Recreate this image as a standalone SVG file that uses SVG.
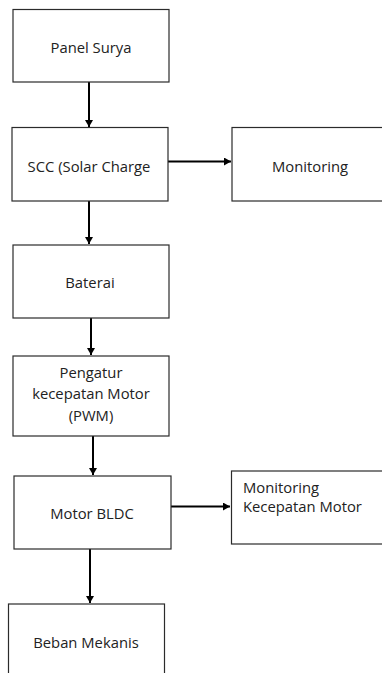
<svg xmlns="http://www.w3.org/2000/svg" width="382" height="673" viewBox="0 0 382 673">
<style>
.box{fill:#fff;stroke:#2b2b2b;stroke-width:1.2}
.lbl{font-family:"Open Sans","Liberation Sans",sans-serif;font-size:14.8px;fill:#222;text-anchor:middle}
.lft{text-anchor:start}
.con{stroke:#000;stroke-width:2;fill:none;marker-end:url(#ah)}
</style>
<defs>
<marker id="ah" markerWidth="8" markerHeight="8" refX="7" refY="4" orient="auto" markerUnits="userSpaceOnUse">
<path d="M0,0 L7,4 L0,8 Z" fill="#000"/>
</marker>
</defs>
<rect width="382" height="673" fill="#fff"/>
<g id="connectors">
<line class="con" x1="89" y1="82" x2="89" y2="127"/>
<line class="con" x1="168" y1="161.5" x2="231" y2="161.5"/>
<line class="con" x1="89" y1="201" x2="89" y2="244"/>
<line class="con" x1="91" y1="318" x2="91" y2="355"/>
<line class="con" x1="93" y1="436" x2="93" y2="475"/>
<line class="con" x1="171" y1="506.5" x2="230" y2="506.5"/>
<line class="con" x1="90" y1="549" x2="90" y2="603"/>
</g>
<g id="panel-surya">
<rect class="box" x="13" y="9.5" width="156" height="72.5"/>
<text class="lbl" x="91" y="53">Panel Surya</text>
</g>
<g id="scc">
<rect class="box" x="12" y="127.5" width="156" height="73.5"/>
<text class="lbl" x="89" y="172">SCC (Solar Charge</text>
</g>
<g id="monitoring">
<rect class="box" x="232" y="127.5" width="160" height="73.5"/>
<text class="lbl" x="310" y="172">Monitoring</text>
</g>
<g id="baterai">
<rect class="box" x="13" y="245" width="156" height="73"/>
<text class="lbl" x="90" y="288">Baterai</text>
</g>
<g id="pengatur">
<rect class="box" x="13" y="356" width="156" height="80"/>
<text class="lbl" x="91" y="378">Pengatur</text>
<text class="lbl" x="91" y="399">kecepatan Motor</text>
<text class="lbl" x="91" y="421">(PWM)</text>
</g>
<g id="motor-bldc">
<rect class="box" x="14" y="476" width="157" height="73"/>
<text class="lbl" x="92" y="519">Motor BLDC</text>
</g>
<g id="monitoring-kecepatan">
<rect class="box" x="231.5" y="471" width="160" height="73"/>
<text class="lbl lft" x="243" y="493">Monitoring</text>
<text class="lbl lft" x="243" y="511.5">Kecepatan Motor</text>
</g>
<g id="beban-mekanis">
<rect class="box" x="8.5" y="604" width="156" height="80"/>
<text class="lbl" x="86" y="648">Beban Mekanis</text>
</g>
</svg>
